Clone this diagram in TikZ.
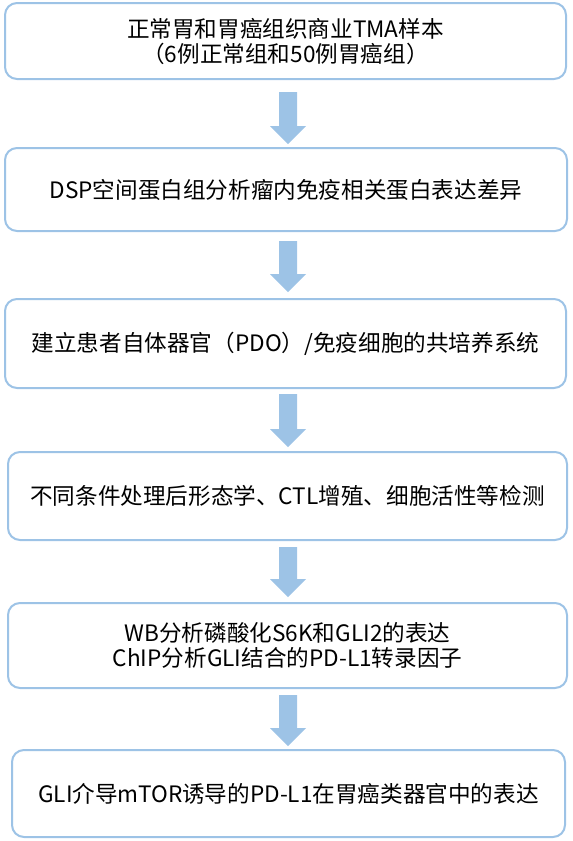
\documentclass[tikz,border=0pt]{standalone}
\usepackage{fontspec}
\setmainfont{Noto Sans CJK SC}
\usetikzlibrary{calc}
\definecolor{boxblue}{HTML}{9DC3E6}
\definecolor{arrblue}{HTML}{9DC3E6}
\tikzset{
  flowbox/.style={draw=boxblue, line width=2pt, rounded corners=12pt, fill=white,
    align=center, inner sep=0pt, font=\fontsize{22.6}{25}\selectfont, text=black},
  arrfill/.style={fill=arrblue, draw=none}
}
\newcommand\boxat[6]{% name, x1, y1, x2, y2, text
  \node[flowbox, minimum width={#4-#2}, minimum height={#5-#3}] (#1) at ({(#2+#4)/2},{(#3+#5)/2}) {#6};}
\newcommand\flowarr[4]{% from node, to node, top offset, tip offset
  \path let \p1=(#1.south), \p2=(#2.north) in
    coordinate (s) at (288,\y1) coordinate (t) at (288,\y2);
  \fill[arrfill] let \p1=(s), \p2=(t) in
    (\x1-9,\y1-#3) -- (\x1+9,\y1-#3) -- (\x1+9,\y2+#4+18) -- (\x1+18,\y2+#4+18)
    -- (\x1,\y2+#4) -- (\x1-18,\y2+#4+18) -- (\x1-9,\y2+#4+18) -- cycle;}
\begin{document}
\begin{tikzpicture}[x=1pt,y=-1pt]
\useasboundingbox (0,0) rectangle (573,841);
\boxat{b1}{5}{3}{566}{79}{正常胃和胃癌组织商业TMA样本\\（6例正常组和50例胃癌组）}
\boxat{b2}{5}{148}{567}{231}{DSP空间蛋白组分析瘤内免疫相关蛋白表达差异}
\boxat{b3}{5}{299}{566}{388}{建立患者自体器官（PDO）/免疫细胞的共培养系统}
\boxat{b4}{8}{452}{567}{540}{不同条件处理后形态学、CTL增殖、细胞活性等检测}
\boxat{b5}{8}{603}{567}{688}{WB分析磷酸化S6K和GLI2的表达\\ChIP分析GLI结合的PD-L1转录因子}
\boxat{b6}{12}{750}{565}{837}{GLI介导mTOR诱导的PD-L1在胃癌类器官中的表达}
\flowarr{b1}{b2}{12}{3}
\flowarr{b2}{b3}{9}{6}
\flowarr{b3}{b4}{5}{4}
\flowarr{b4}{b5}{6}{5}
\flowarr{b5}{b6}{6}{3}
\end{tikzpicture}
\end{document}
